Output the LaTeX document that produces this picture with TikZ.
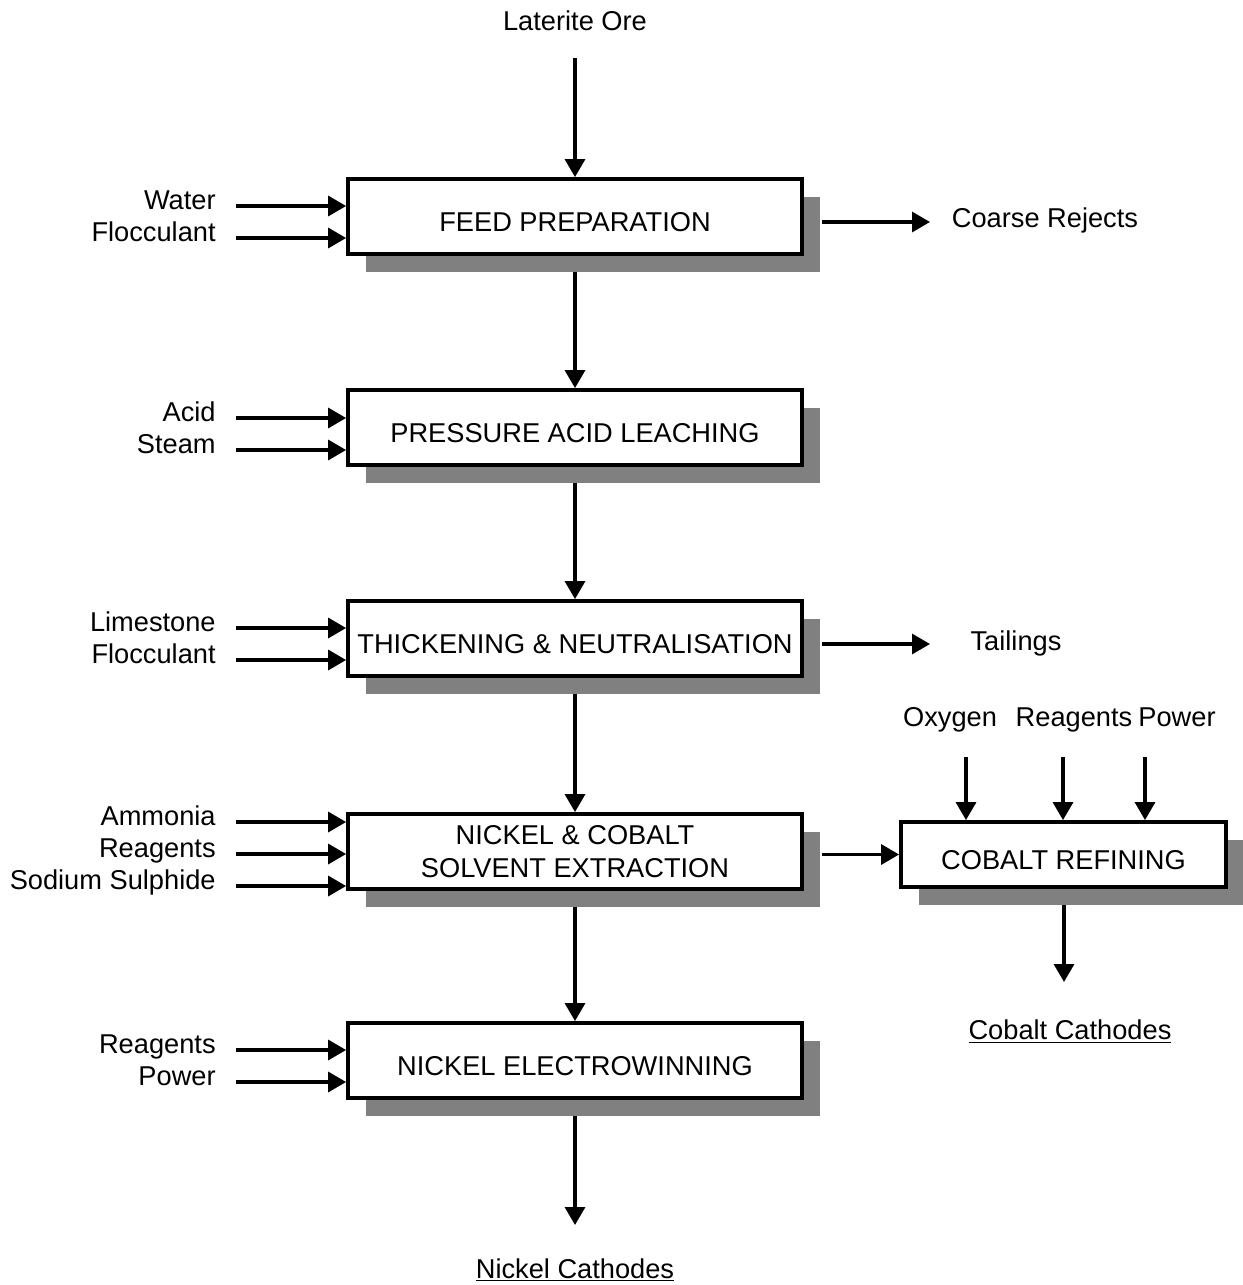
\documentclass[tikz,border=0pt]{standalone}
\usepackage{fontspec}
\setmainfont{Liberation Sans}
\usetikzlibrary{arrows.meta,shadows}

\begin{document}
\begin{tikzpicture}[x=0.02cm,y=-0.02cm,
	txt/.style={font=\fontsize{15.5}{18.8}\selectfont, inner sep=0pt},
	unit/.style={txt, draw, line width=2.2pt, fill=white, minimum width=9.08cm, minimum height=1.5cm, align=center,
		drop shadow={shadow xshift=0.36cm, shadow yshift=-0.36cm, fill=black!50, opacity=1}},
	oneline/.style={text height=0.59cm, text depth=0pt},
	flow/.style={line width=1.9pt, -{Triangle[length=0.36cm,width=0.4cm]}}]
	\useasboundingbox (0,0) rectangle (1242,1285);
	% process units
	\node[unit, oneline] (feed) at (575,216.5) {FEED PREPARATION};
	\node[unit, oneline] (pal) at (575,427.5) {PRESSURE ACID LEACHING};
	\node[unit, oneline] (thick) at (575,638.5) {THICKENING \& NEUTRALISATION};
	\node[unit] (sx) at (575,851.5) {NICKEL \& COBALT\\SOLVENT EXTRACTION};
	\node[unit, oneline] (ew) at (575,1060.5) {NICKEL ELECTROWINNING};
	\node[unit, oneline, minimum width=6.5cm, minimum height=1.3cm] (cr) at (1063.5,854.5) {COBALT REFINING};
	% main flow
	\node[txt, anchor=base] (ore) at (575,30.5) {Laterite Ore};
	\coordinate (orein) at (575,58);
	\draw[flow] (orein) -- (feed.north);
	\draw[flow] ([yshift=-0.32cm]feed.south) -- (pal.north);
	\draw[flow] ([yshift=-0.32cm]pal.south) -- (thick.north);
	\draw[flow] ([yshift=-0.32cm]thick.south) -- (sx.north);
	\draw[flow] ([yshift=-0.32cm]sx.south) -- (ew.north);
	\coordinate (niout) at (575,1225);
	\draw[flow] ([yshift=-0.32cm]ew.south) -- (niout);
	\node[txt, anchor=base] (nicath) at (575,1278) {\underline{Nickel Cathodes}};
	% reagents in
	\foreach \n/\y/\t/\u in {water/206/Water/feed, flocf/238/Flocculant/feed,
		acid/418/Acid/pal, steam/450/Steam/pal,
		lime/628/Limestone/thick, flocn/660/Flocculant/thick,
		ammonia/822/Ammonia/sx, reagsx/854/Reagents/sx, sulph/886/Sodium Sulphide/sx,
		reagew/1050/Reagents/ew, powew/1082/Power/ew}{
		\node[txt, anchor=base east] (\n) at (216,\y+3) {\t};
		\coordinate (\n in) at (236,\y);
		\draw[flow] (\n in) -- (\n in -| \u.west);
	}
	% products out
	\coordinate (rejout) at (930,222);
	\draw[flow] ([xshift=0.36cm]feed.east |- rejout) -- (rejout);
	\node[txt, anchor=base] (rej) at (1045,227.5) {Coarse Rejects};
	\coordinate (tailout) at (930,644);
	\draw[flow] ([xshift=0.36cm]thick.east |- tailout) -- (tailout);
	\node[txt, anchor=base] (tail) at (1016,650.5) {Tailings};
	\draw[flow] ([xshift=0.36cm]sx.east |- cr.west) -- (cr.west);
	% cobalt refining
	\node[txt, anchor=base] (oxy) at (950,726.5) {Oxygen};
	\node[txt, anchor=base] (reagcr) at (1074,726.5) {Reagents};
	\node[txt, anchor=base] (powcr) at (1177,726.5) {Power};
	\coordinate (oxyin) at (966,757);
	\coordinate (reagcrin) at (1063,757);
	\coordinate (powcrin) at (1145,757);
	\draw[flow] (oxyin) -- (oxyin |- cr.north);
	\draw[flow] (reagcrin) -- (reagcrin |- cr.north);
	\draw[flow] (powcrin) -- (powcrin |- cr.north);
	\coordinate (coout) at (1064,982);
	\draw[flow] ([yshift=-0.32cm]cr.south -| coout) -- (coout);
	\node[txt, anchor=base] (cocath) at (1070,1039.5) {\underline{Cobalt Cathodes}};
\end{tikzpicture}
\end{document}
